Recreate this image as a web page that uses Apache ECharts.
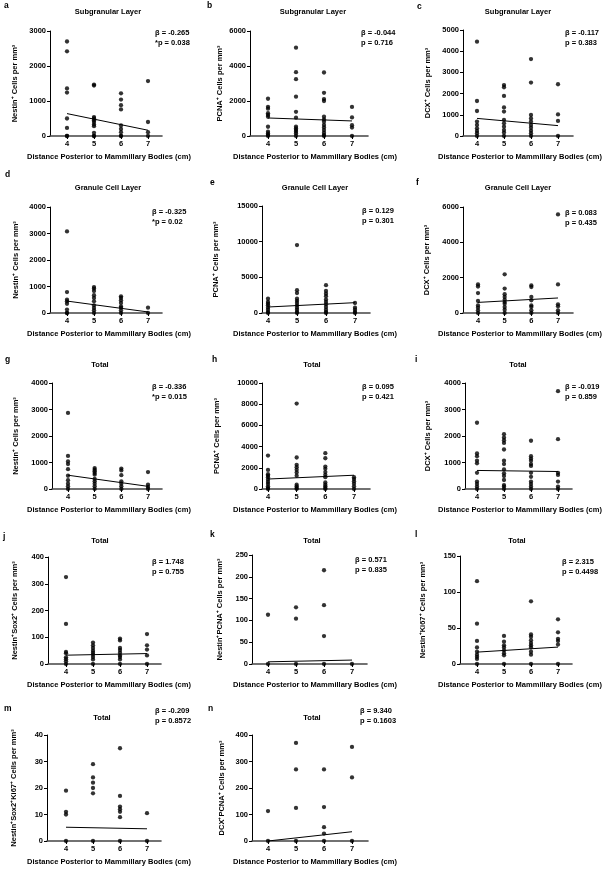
<!DOCTYPE html>
<html><head><meta charset="utf-8">
<script src="https://cdn.jsdelivr.net/npm/echarts@6/dist/echarts.min.js"></script>
<style>html,body{margin:0;padding:0;background:#fff}#c{width:605px;height:871px}</style>
</head><body><div id="c"></div>
<script>
// distances (cm) posterior to mammillary bodies
const distances = [4, 5, 6, 7];
const xAxisName = 'Distance Posterior to Mammillary Bodies (cm)';

// values grouped by distance 4, 5, 6, 7
const aNestinSGL = [[2700,2420,1360,1240,500,230,0,0],[1470,1440,540,500,450,400,330,280,90,0,0],[1220,1040,880,760,300,200,110,0,0],[1570,400,110,0]];
const bPcnaSGL = [[2130,1670,1560,1300,1200,1100,530,250,150,60,0],[5050,3650,3250,2250,1380,1050,530,430,340,250,150,0],[3630,2470,2110,2000,1100,950,820,630,490,340,190,60,0],[1660,1060,620,480,0]];
const cDcxSGL = [[4450,1650,1180,680,520,360,240,130,0],[2400,2300,1890,1350,1150,760,600,440,280,160,0],[3630,2520,990,830,680,520,390,250,130,0],[2440,1020,710,0]];
const dNestinGCL = [[3080,790,500,440,350,130,0,0],[980,920,830,670,570,440,290,190,100,0],[630,570,480,380,250,200,100,0],[200,0]];
const ePcnaGCL = [[2000,1550,1300,1080,750,470,140,0],[9520,3200,2800,2000,1700,1400,1080,750,470,140,0],[3900,3100,2700,2350,1880,1550,1220,850,470,140,0],[1400,750,470,140,0]];
const fDcxGCL = [[1620,1500,1130,680,430,300,150,0],[2190,1380,1060,910,750,620,530,340,190,0],[1560,1470,910,720,430,340,150,0],[5580,1620,490,380,150,0]];
const gNestinTotal = [[2870,1250,1040,940,750,500,330,200,100,0],[790,730,670,600,540,380,290,200,100,0],[770,700,520,290,200,100,0],[640,160,80,0]];
const hPcnaTotal = [[3150,1800,1400,1250,1100,880,660,470,250,90,0],[8060,2970,2280,2060,1810,1560,1250,400,250,90,0],[3380,2900,2120,1900,1600,1340,1120,620,400,250,90,0],[1120,940,720,500,250,0]];
const iDcxTotal = [[2500,1340,1240,1070,970,610,280,190,90,0],[2070,1940,1840,1740,1490,1070,940,740,590,490,340,150,90,0],[1820,1240,1150,1070,940,870,610,460,280,190,90,0],[3690,1880,610,530,280,90,0]];
const jNestinSox2 = [[325,150,45,40,25,18,10,0],[80,70,60,50,42,35,26,17,0],[95,88,60,52,42,32,26,17,0],[112,70,54,32,0]];
const kNestinPcna = [[113,0],[130,104,0],[215,135,64,0],[0]];
const lNestinKi67 = [[115,56,32,23,17,13,10,7,0],[39,31,26,23,19,15,12,0],[87,41,38,33,29,26,23,17,13,0],[62,44,35,32,27,0]];
const mNestinSox2Ki67 = [[19,11,10,0],[29,24,22,20,18,0],[35,17,13,12,11,9,0],[10.5,0]];
const nDcxPcna = [[113,0],[370,270,125,0],[270,128,52,28,0],[355,240,0]];

// regression line values at distance 4 and 7
const aTrend = [640, 165];
const bTrend = [1030, 860];
const cTrend = [830, 490];
const dTrend = [450, 40];
const eTrend = [840, 1450];
const fTrend = [600, 850];
const gTrend = [520, 100];
const hTrend = [940, 1300];
const iTrend = [700, 660];
const jTrend = [33, 39];
const kTrend = [5, 9];
const lTrend = [16.5, 23.5];
const mTrend = [5.2, 4.6];
const nTrend = [0, 35];

// y-axis tick settings
const yMax = [3000, 6000, 5000, 4000, 15000, 6000, 4000, 10000, 4000, 400, 250, 150, 40, 400];
const yStep = [1000, 2000, 1000, 1000, 5000, 2000, 1000, 2000, 1000, 100, 50, 50, 10, 100];

const letters = ['a','b','c','d','e','f','g','h','i','j','k','l','m','n'];
const titles = ['Subgranular Layer','Subgranular Layer','Subgranular Layer','Granule Cell Layer','Granule Cell Layer','Granule Cell Layer','Total','Total','Total','Total','Total','Total','Total','Total'];
const yNames = ['Nestin⁺ Cells per mm³','PCNA⁺ Cells per mm³','DCX⁺ Cells per mm³','Nestin⁺ Cells per mm³','PCNA⁺ Cells per mm³','DCX⁺ Cells per mm³','Nestin⁺ Cells per mm³','PCNA⁺ Cells per mm³','DCX⁺ Cells per mm³','Nestin⁺Sox2⁺ Cells per mm³','Nestin⁺PCNA⁺ Cells per mm³','Nestin⁺Ki67⁺ Cells per mm³','Nestin⁺Sox2⁺Ki67⁺ Cells per mm³','DCX⁺PCNA⁺ Cells per mm³'];
const betas = ['β = -0.265','β = -0.044','β = -0.117','β = -0.325','β = 0.129','β = 0.083','β = -0.336','β = 0.095','β = -0.019','β = 1.748','β = 0.571','β = 2.315','β = -0.209','β = 9.340'];
const pvals = ['*p = 0.038','p = 0.716','p = 0.383','*p = 0.02','p = 0.301','p = 0.435','*p = 0.015','p = 0.421','p = 0.859','p = 0.755','p = 0.835','p = 0.4498','p = 0.8572','p = 0.1603'];

const values = [aNestinSGL,bPcnaSGL,cDcxSGL,dNestinGCL,ePcnaGCL,fDcxGCL,gNestinTotal,hPcnaTotal,iDcxTotal,jNestinSox2,kNestinPcna,lNestinKi67,mNestinSox2Ki67,nDcxPcna];
const trends = [aTrend,bTrend,cTrend,dTrend,eTrend,fTrend,gTrend,hTrend,iTrend,jTrend,kTrend,lTrend,mTrend,nTrend];

// layout: [axisLeft, axisRight, top, zeroY, px of x=4, px of x=7, yNameGap, letterX, letterY, titleX, titleY, statX, statY, xNameX]
const layout = [
  [50,162,31,136,67,148,31, 4,6, 108,12, 155,33, 109],
  [250,368,31,136,268,352,26, 207,6, 313,12, 361,33, 315],
  [463,573,30,136,477,558,31, 417,7, 518,12, 565,33, 520],
  [50,162,207,313,67,148,30, 5,175, 108,188, 152,212, 109],
  [262,370,206,313,268,355,42, 210,183, 315,188, 362,211, 315],
  [463,573,207,313,478,558,32, 416,183, 518,188, 565,213, 520],
  [52,162,383,489,68,148,32, 5,360, 100,365, 152,387, 109],
  [262,370,383,489,268,354,41, 212,360, 312,365, 362,387, 315],
  [465,572,383,489,477,558,33, 415,360, 518,365, 565,387, 520],
  [48,161,557,664,66,147,29, 3,537, 100,541, 152,562, 109],
  [252,367,555,664,268,352,28, 210,535, 312,541, 355,560, 315],
  [460,572,556,664,477,558,33, 415,535, 517,541, 562,562, 520],
  [47,161,735,841,66,147,29, 4,709, 102,718, 155,711, 109],
  [252,368,735,841,268,352,26, 208,709, 312,718, 360,711, 315]
];

const FONT = 'Liberation Sans, Arial, sans-serif';
const FS = 7.5;
const grids = [], xAxes = [], yAxes = [], series = [], graphics = [];
values.forEach((vals, i) => {
  const [L, R, T, B, x4, x7, gap, lx, ly, tx, ty, sx, sy, nx] = layout[i];
  const unit = (x7 - x4) / 3;
  grids.push({left: L, top: T, width: R - L, height: B - T});
  xAxes.push({
    type: 'value', gridIndex: i,
    min: 4 - (x4 - L) / unit, max: 7 + (R - x7) / unit,
    axisLine: {show: true, onZero: false, lineStyle: {color: '#444', width: 1.6}},
    axisTick: {show: true, length: 3, customValues: distances, lineStyle: {color: '#000'}},
    axisLabel: {show: true, customValues: distances, margin: 4, fontFamily: FONT, fontWeight: 'bold', fontSize: FS, color: '#000'},
    splitLine: {show: false}
  });
  yAxes.push({
    type: 'value', gridIndex: i, min: 0, max: yMax[i], interval: yStep[i],
    name: yNames[i], nameLocation: 'middle', nameGap: gap,
    nameTextStyle: {fontFamily: FONT, fontWeight: 'bold', fontSize: FS, color: '#000'},
    axisLine: {show: true, lineStyle: {color: '#000', width: 1}},
    axisTick: {show: true, length: 3, lineStyle: {color: '#000'}},
    axisLabel: {margin: 4, fontFamily: FONT, fontWeight: 'bold', fontSize: FS, color: '#000',
      formatter: v => String(v)},
    splitLine: {show: false}
  });
  const pts = [];
  vals.forEach((arr, k) => arr.forEach(v => pts.push([distances[k], v])));
  series.push({type: 'scatter', xAxisIndex: i, yAxisIndex: i, data: pts, symbolSize: 4.3,
    itemStyle: {color: '#000'}, silent: true, z: 3});
  series.push({type: 'line', xAxisIndex: i, yAxisIndex: i,
    data: [[distances[0], trends[i][0]], [distances[3], trends[i][1]]],
    symbol: 'none', lineStyle: {color: '#000', width: 1}, silent: true, z: 2});
  const txt = (text, x, y, align, size) => graphics.push({type: 'text', x, y,
    style: {text, fill: '#000', font: 'bold ' + (size || FS) + 'px ' + FONT, align: align, verticalAlign: 'middle'}});
  txt(letters[i], lx, ly, 'left', 8.5);
  txt(titles[i], tx, ty, 'center');
  txt(betas[i], sx, sy, 'left');
  txt(pvals[i], sx, sy + 9.5, 'left');
  txt(xAxisName, nx, B + 21, 'center');
});

const chart = echarts.init(document.getElementById('c'), null, {renderer: 'canvas'});
chart.setOption({animation: false, backgroundColor: '#fff', grid: grids, xAxis: xAxes, yAxis: yAxes, series, graphic: graphics});
</script></body></html>
